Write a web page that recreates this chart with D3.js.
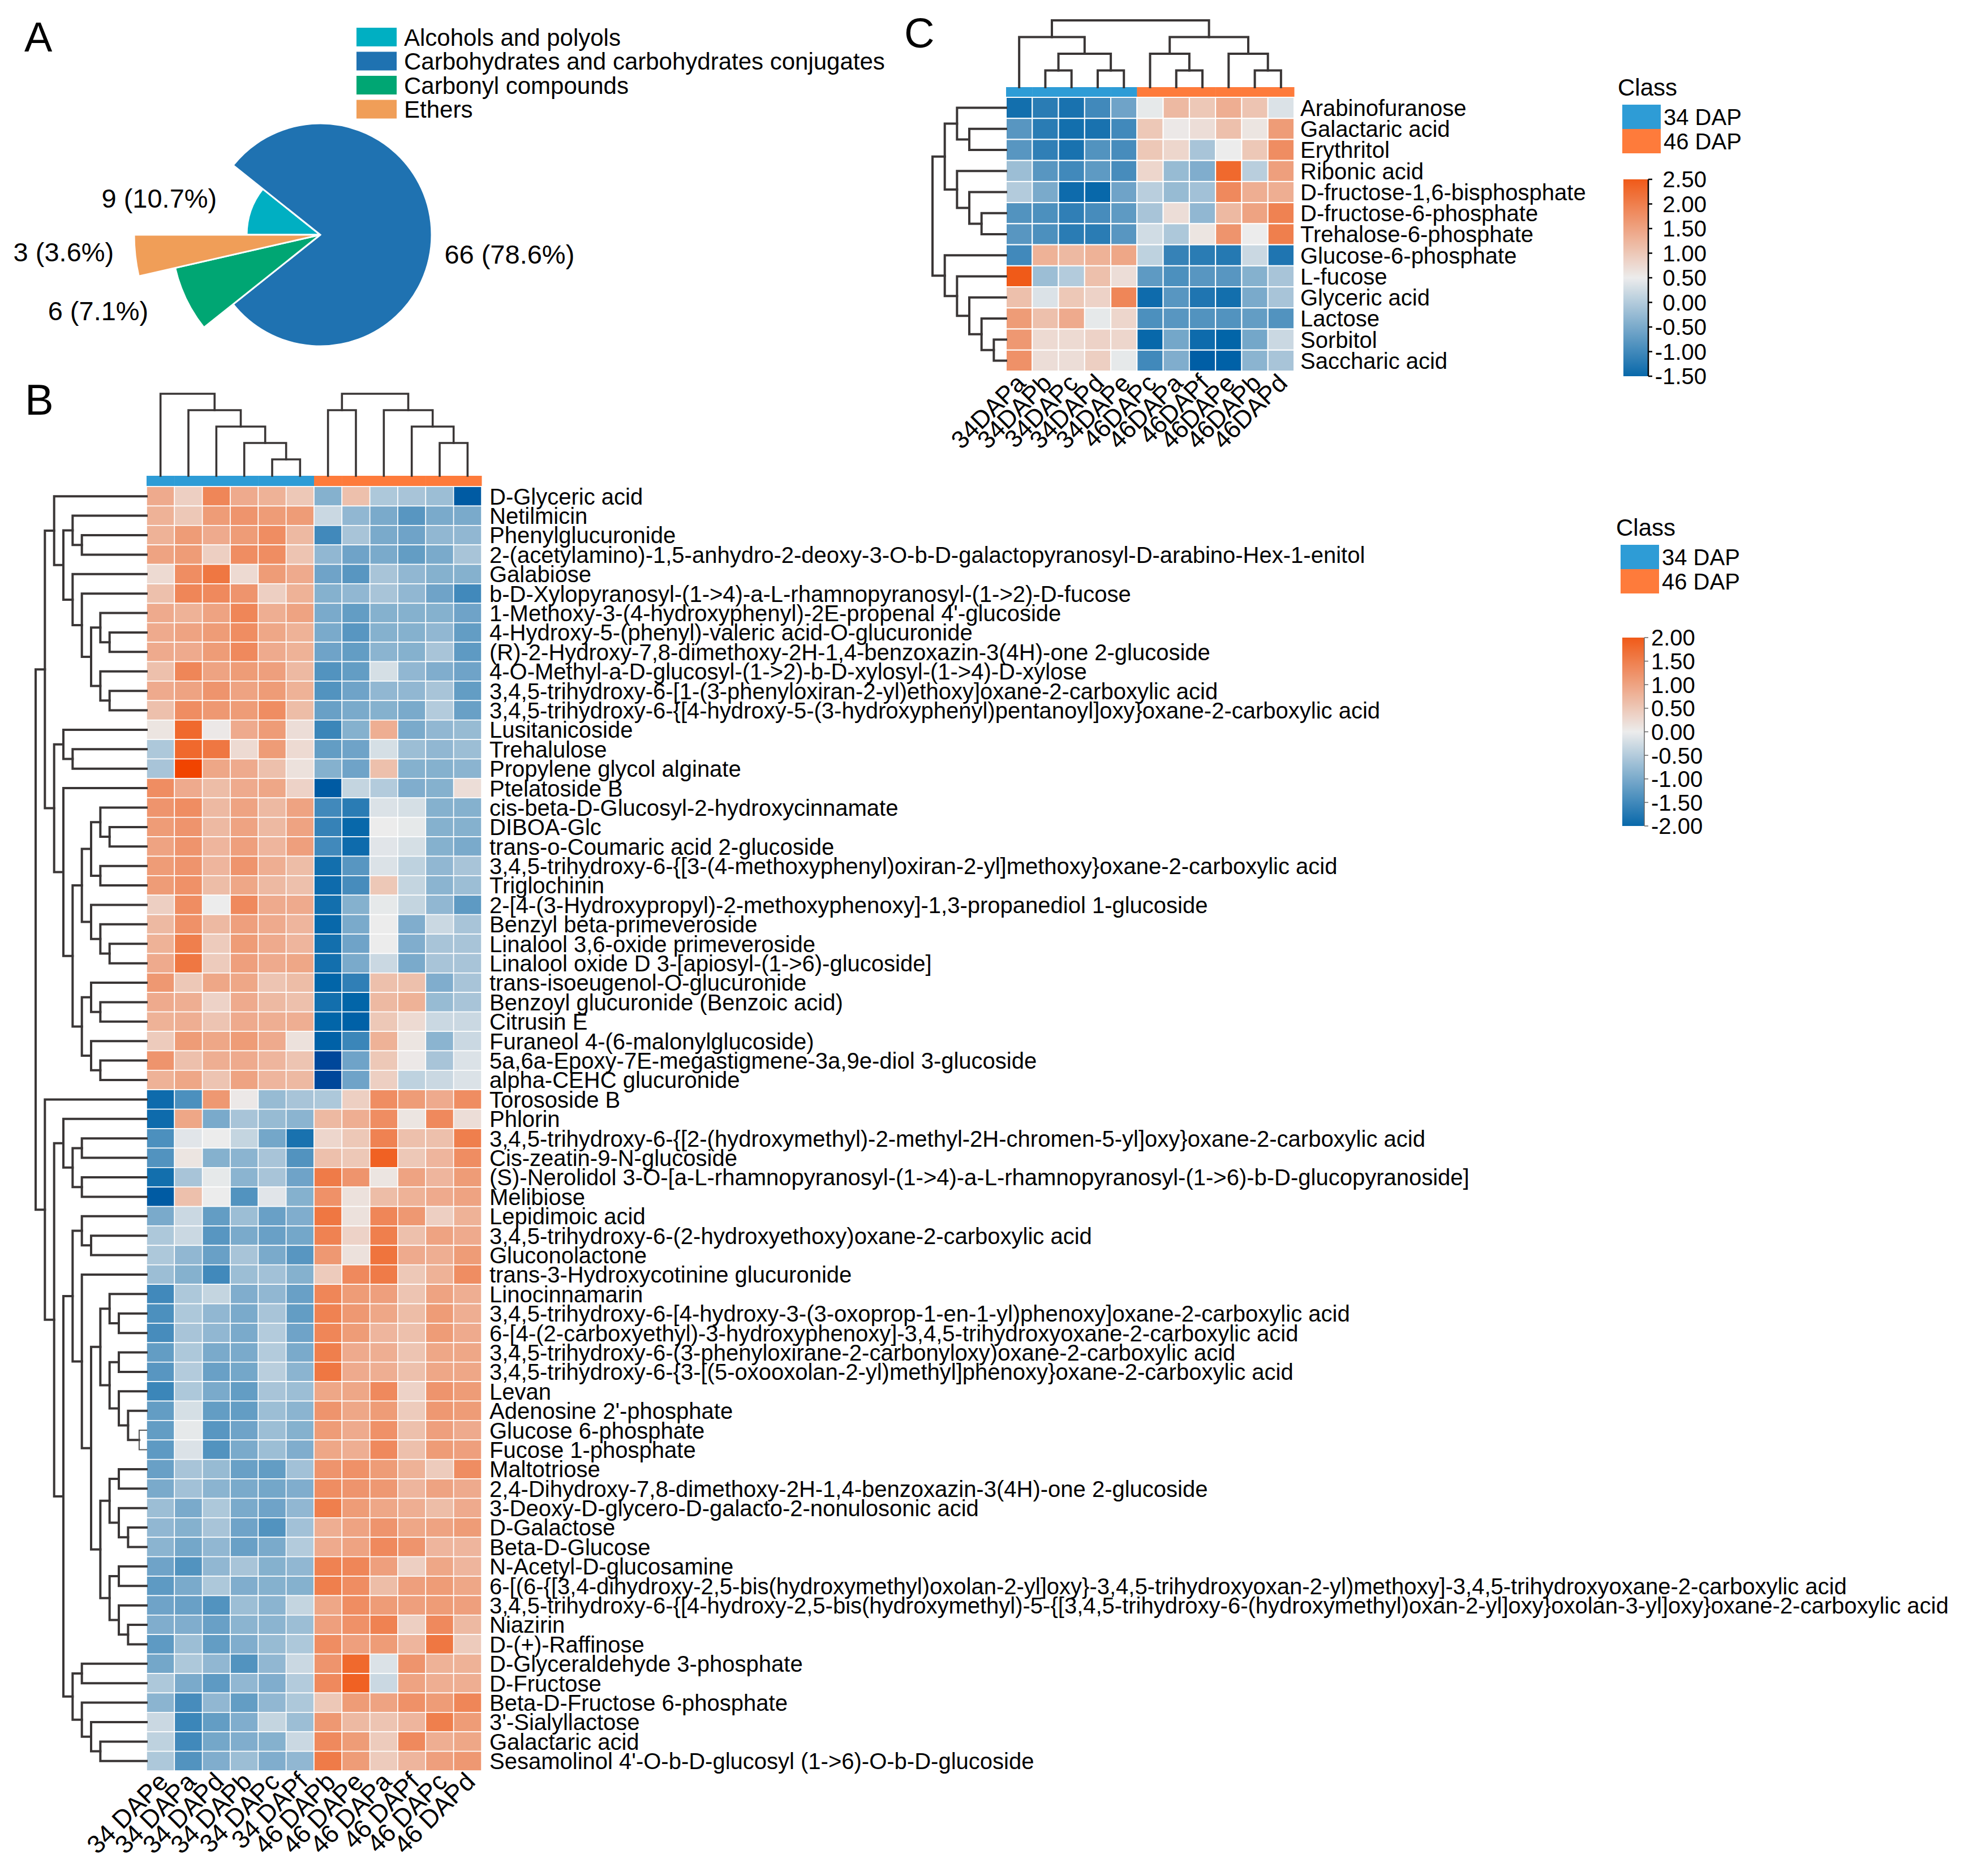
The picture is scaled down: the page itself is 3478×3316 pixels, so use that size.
<!DOCTYPE html>
<html><head><meta charset="utf-8">
<script src="https://cdn.jsdelivr.net/npm/d3@7"></script>
<style>
body{margin:0;background:#fff}
text{font-family:"Liberation Sans",Arial,Helvetica,sans-serif;fill:#000}
</style>
</head><body>
<svg id="chart" width="3478" height="3316" xmlns="http://www.w3.org/2000/svg"></svg>
<script>
// ---------------- DATA ----------------
// Panel A
const pieCategories = ["Alcohols and polyols","Carbohydrates and carbohydrates conjugates","Carbonyl compounds","Ethers"];
const pieCounts = [9, 66, 6, 3];
const pieLabels = ["9 (10.7%)","66 (78.6%)","6 (7.1%)","3 (3.6%)"];
const pieColors = ["#00AFC2","#1F72B1","#00A673","#F09E58"];

// Panel C
const cRows = ["Arabinofuranose","Galactaric acid","Erythritol","Ribonic acid","D-fructose-1,6-bisphosphate",
  "D-fructose-6-phosphate","Trehalose-6-phosphate","Glucose-6-phosphate","L-fucose","Glyceric acid",
  "Lactose","Sorbitol","Saccharic acid"];
const cCols = ["34DAPa","34DAPb","34DAPc","34DAPd","34DAPe","46DAPc","46DAPa","46DAPf","46DAPe","46DAPb","46DAPd"];
const cClass = ["34 DAP","34 DAP","34 DAP","34 DAP","34 DAP","46 DAP","46 DAP","46 DAP","46 DAP","46 DAP","46 DAP"];
const cValues = [
  [-1.4,-1.2,-1.35,-1.0,-0.6, 0.45,1.2,1.0,1.35,1.05,0.35],
  [-0.8,-1.2,-1.4,-1.35,-1.0, 1.0,0.55,0.7,1.1,0.6,1.6],
  [-0.8,-1.15,-1.35,-0.85,-0.95, 1.0,0.8,-0.1,0.5,1.0,1.8],
  [-0.2,-0.8,-1.0,-0.75,-0.95, 0.8,-0.25,-0.45,2.3,0.05,1.55],
  [0.0,-0.5,-1.45,-1.5,-0.6, 0.05,-0.25,-0.15,1.85,1.35,1.35],
  [-0.85,-0.9,-1.15,-0.95,-0.75, -0.1,0.7,-0.3,1.2,1.5,1.95],
  [-0.8,-0.9,-1.2,-1.2,-0.8, 0.25,-0.05,0.6,1.7,0.5,2.0],
  [-1.0,1.3,1.2,1.3,1.45, 0.1,-1.1,-1.2,-1.25,0.2,-1.3],
  [2.5,-0.2,0.0,1.1,0.7, -0.75,-0.9,-0.8,-0.8,-0.4,-0.1],
  [1.1,0.35,1.0,0.85,1.9, -1.45,-0.8,-1.3,-1.4,-0.5,-0.1],
  [1.6,1.1,1.4,0.45,0.8, -0.9,-0.8,-0.85,-0.85,-0.7,-0.85],
  [1.65,0.75,0.75,0.85,0.8, -1.5,-0.55,-1.45,-1.55,-0.55,0.2],
  [1.75,0.7,0.7,0.9,0.45, -1.0,-0.45,-1.65,-1.6,-0.35,-0.1]
];
// trees: [mergeHeight, left, right]; leaves are indices
const cRowTree = [6,[5,[4,0,[3,1,2]],[4,3,[3,4,[2,5,6]]]],[5,7,[4,8,[3,9,[2,10,[1,11,12]]]]]];
const cColTree = [4,[3,0,[2,[1,1,2],[1,3,4]]],[3,[2,5,[1,6,7]],[2,8,[1,9,10]]]];
const cLegendTicks = [2.5,2.0,1.5,1.0,0.5,0.0,-0.5,-1.0,-1.5];

// Panel B
const bRows = ["D-Glyceric acid","Netilmicin","Phenylglucuronide",
"2-(acetylamino)-1,5-anhydro-2-deoxy-3-O-b-D-galactopyranosyl-D-arabino-Hex-1-enitol","Galabiose",
"b-D-Xylopyranosyl-(1->4)-a-L-rhamnopyranosyl-(1->2)-D-fucose","1-Methoxy-3-(4-hydroxyphenyl)-2E-propenal 4'-glucoside",
"4-Hydroxy-5-(phenyl)-valeric acid-O-glucuronide","(R)-2-Hydroxy-7,8-dimethoxy-2H-1,4-benzoxazin-3(4H)-one 2-glucoside",
"4-O-Methyl-a-D-glucosyl-(1->2)-b-D-xylosyl-(1->4)-D-xylose","3,4,5-trihydroxy-6-[1-(3-phenyloxiran-2-yl)ethoxy]oxane-2-carboxylic acid",
"3,4,5-trihydroxy-6-{[4-hydroxy-5-(3-hydroxyphenyl)pentanoyl]oxy}oxane-2-carboxylic acid","Lusitanicoside","Trehalulose",
"Propylene glycol alginate","Ptelatoside B","cis-beta-D-Glucosyl-2-hydroxycinnamate","DIBOA-Glc","trans-o-Coumaric acid 2-glucoside",
"3,4,5-trihydroxy-6-{[3-(4-methoxyphenyl)oxiran-2-yl]methoxy}oxane-2-carboxylic acid","Triglochinin",
"2-[4-(3-Hydroxypropyl)-2-methoxyphenoxy]-1,3-propanediol 1-glucoside","Benzyl beta-primeveroside",
"Linalool 3,6-oxide primeveroside","Linalool oxide D 3-[apiosyl-(1->6)-glucoside]","trans-isoeugenol-O-glucuronide",
"Benzoyl glucuronide (Benzoic acid)","Citrusin E","Furaneol 4-(6-malonylglucoside)","5a,6a-Epoxy-7E-megastigmene-3a,9e-diol 3-glucoside",
"alpha-CEHC glucuronide","Torososide B","Phlorin",
"3,4,5-trihydroxy-6-{[2-(hydroxymethyl)-2-methyl-2H-chromen-5-yl]oxy}oxane-2-carboxylic acid","Cis-zeatin-9-N-glucoside",
"(S)-Nerolidol 3-O-[a-L-rhamnopyranosyl-(1->4)-a-L-rhamnopyranosyl-(1->6)-b-D-glucopyranoside]","Melibiose","Lepidimoic acid",
"3,4,5-trihydroxy-6-(2-hydroxyethoxy)oxane-2-carboxylic acid","Gluconolactone","trans-3-Hydroxycotinine glucuronide","Linocinnamarin",
"3,4,5-trihydroxy-6-[4-hydroxy-3-(3-oxoprop-1-en-1-yl)phenoxy]oxane-2-carboxylic acid",
"6-[4-(2-carboxyethyl)-3-hydroxyphenoxy]-3,4,5-trihydroxyoxane-2-carboxylic acid",
"3,4,5-trihydroxy-6-(3-phenyloxirane-2-carbonyloxy)oxane-2-carboxylic acid",
"3,4,5-trihydroxy-6-{3-[(5-oxooxolan-2-yl)methyl]phenoxy}oxane-2-carboxylic acid","Levan","Adenosine 2'-phosphate",
"Glucose 6-phosphate","Fucose 1-phosphate","Maltotriose","2,4-Dihydroxy-7,8-dimethoxy-2H-1,4-benzoxazin-3(4H)-one 2-glucoside",
"3-Deoxy-D-glycero-D-galacto-2-nonulosonic acid","D-Galactose","Beta-D-Glucose","N-Acetyl-D-glucosamine",
"6-[(6-{[3,4-dihydroxy-2,5-bis(hydroxymethyl)oxolan-2-yl]oxy}-3,4,5-trihydroxyoxan-2-yl)methoxy]-3,4,5-trihydroxyoxane-2-carboxylic acid",
"3,4,5-trihydroxy-6-{[4-hydroxy-2,5-bis(hydroxymethyl)-5-{[3,4,5-trihydroxy-6-(hydroxymethyl)oxan-2-yl]oxy}oxolan-3-yl]oxy}oxane-2-carboxylic acid",
"Niazirin","D-(+)-Raffinose","D-Glyceraldehyde 3-phosphate","D-Fructose","Beta-D-Fructose 6-phosphate","3'-Sialyllactose",
"Galactaric acid","Sesamolinol 4'-O-b-D-glucosyl (1->6)-O-b-D-glucoside"];
const bCols = ["34 DAPe","34 DAPa","34 DAPd","34 DAPb","34 DAPc","34 DAPf","46 DAPb","46 DAPe","46 DAPa","46 DAPf","46 DAPc","46 DAPd"];
const bClass = ["34 DAP","34 DAP","34 DAP","34 DAP","34 DAP","34 DAP","46 DAP","46 DAP","46 DAP","46 DAP","46 DAP","46 DAP"];
const bValues = [
[0.9,0.4,1.4,0.9,0.8,0.5,-0.9,0.6,-0.55,-0.6,-0.7,-2.2],
[0.8,0.5,1.1,1.2,1.1,1.1,-0.3,-0.8,-1.0,-1.3,-1.0,-1.0],
[0.8,1.1,0.9,1.1,1.3,0.7,-1.5,-0.6,-1.0,-1.1,-0.8,-0.8],
[1.0,1.1,0.4,1.3,1.3,0.55,-0.8,-1.1,-1.0,-1.2,-1.0,-0.6],
[0.25,1.3,1.6,0.25,1.1,0.9,-1.1,-1.3,-0.6,-0.8,-0.9,-0.9],
[0.6,1.4,1.35,1.2,0.4,0.8,-0.9,-0.8,-0.6,-0.8,-1.1,-1.5],
[0.9,0.8,1.0,1.4,0.85,1.0,-1.0,-1.2,-0.9,-0.9,-0.9,-1.1],
[0.9,1.0,1.1,1.3,0.95,0.8,-1.0,-1.3,-0.9,-0.9,-0.8,-1.2],
[0.9,0.9,1.1,1.35,0.9,0.8,-1.1,-1.2,-0.85,-0.9,-0.6,-1.25],
[0.6,1.4,1.0,1.1,1.05,0.7,-1.35,-1.2,-0.2,-0.8,-0.95,-1.1],
[0.9,1.0,1.2,1.0,1.1,0.8,-1.35,-1.1,-0.8,-0.8,-0.6,-1.2],
[0.6,1.3,1.15,1.1,1.3,0.65,-1.15,-1.0,-0.9,-1.0,-0.5,-1.15],
[0.1,1.8,0.05,0.9,1.1,0.2,-1.55,-0.9,0.85,-1.0,-0.8,-0.75],
[-0.55,1.8,1.6,0.25,1.1,0.25,-1.2,-1.1,-0.2,-0.7,-0.8,-0.7],
[-0.6,2.3,0.95,0.9,0.6,0.15,-0.9,-1.1,0.6,-0.9,-0.9,-0.85],
[1.3,0.9,0.65,0.9,0.95,0.35,-2.2,-0.35,-0.5,-0.95,-0.9,0.2],
[1.2,1.3,0.7,1.0,0.7,1.0,-1.5,-1.7,-0.15,-0.2,-0.9,-0.9],
[1.1,1.2,0.7,1.0,0.7,1.0,-1.6,-2.0,0.0,-0.05,-0.9,-0.9],
[1.0,1.2,0.75,1.05,0.75,1.05,-1.5,-1.95,-0.1,-0.2,-0.9,-1.0],
[1.1,1.2,0.75,1.2,0.85,0.65,-1.9,-1.3,-0.15,-0.4,-0.8,-0.6],
[1.1,1.25,0.65,0.95,0.7,0.6,-1.95,-1.45,0.5,-0.35,-0.85,-0.7],
[0.4,1.3,0.0,1.35,0.9,0.9,-1.9,-0.9,-0.05,-0.35,-0.8,-1.25],
[0.7,1.25,0.7,1.05,0.9,0.75,-2.0,-1.0,0.0,-0.95,-0.3,-0.6],
[0.8,1.5,0.45,1.1,0.9,0.75,-1.9,-1.1,0.0,-0.95,-0.6,-0.6],
[0.9,1.6,0.45,1.05,0.9,0.95,-1.9,-1.0,-0.3,-1.0,-0.6,-0.6],
[1.15,0.5,0.95,0.95,0.55,0.65,-2.05,-1.65,0.6,0.6,-0.95,-0.6],
[0.9,0.85,0.35,0.9,0.7,0.6,-1.9,-2.05,0.7,0.8,-0.75,-0.6],
[0.8,0.85,0.55,0.9,0.85,0.85,-2.05,-2.1,0.5,0.25,-0.3,-0.3],
[0.45,1.1,0.95,1.1,0.9,0.15,-2.1,-1.55,0.8,0.1,-0.85,-0.3],
[1.2,0.6,0.85,0.9,0.75,0.55,-2.5,-1.1,0.5,0.05,-0.6,-0.15],
[0.8,0.95,0.55,1.0,0.75,0.7,-2.5,-1.1,0.4,-0.4,-0.3,-0.15],
[-1.95,-1.4,1.15,0.05,-0.75,-0.6,-0.55,0.4,1.3,1.1,0.9,1.3],
[-1.95,0.95,-1.0,-0.6,-0.75,-0.85,0.7,0.85,1.3,0.1,1.35,0.2],
[-1.4,-0.1,0.0,-0.35,-1.05,-1.85,0.3,0.5,1.45,0.6,0.6,1.5],
[-1.35,0.1,-0.9,-0.85,-0.6,-1.35,0.6,0.5,1.9,0.5,0.75,1.3],
[-1.9,-0.6,-0.05,-0.85,-0.6,-1.1,1.55,1.2,0.1,1.0,0.75,1.1],
[-2.2,0.6,0.0,-1.35,-0.1,-0.9,1.25,0.15,0.65,0.8,0.9,1.0],
[-1.0,-0.3,-1.2,-0.7,-1.15,-0.95,1.6,0.15,1.4,1.15,0.4,0.8],
[-0.55,-0.3,-1.3,-1.0,-1.15,-1.05,1.45,0.35,1.5,0.6,1.0,0.9],
[-0.55,-0.8,-1.15,-0.6,-1.0,-1.3,1.15,0.15,1.65,0.9,0.85,1.1],
[-0.7,-0.9,-1.5,-0.7,-0.65,-0.9,0.45,1.35,1.55,0.5,0.8,1.3],
[-1.5,-0.55,-0.35,-0.95,-0.8,-1.15,1.4,1.1,1.05,0.55,1.0,0.85],
[-1.4,-0.55,-0.8,-1.0,-0.6,-1.2,1.45,1.15,0.95,0.65,1.1,0.85],
[-1.45,-0.6,-0.8,-1.0,-0.5,-1.1,1.4,1.1,0.75,0.6,1.1,0.9],
[-1.2,-0.55,-1.0,-1.0,-0.5,-1.0,1.5,0.9,0.85,0.55,0.95,0.95],
[-1.3,-0.5,-1.15,-1.05,-0.45,-0.85,1.6,0.9,0.85,0.6,0.95,0.95],
[-1.55,-0.55,-1.0,-1.2,-0.6,-0.7,0.95,0.95,1.35,0.35,1.2,1.1],
[-1.2,-0.2,-1.2,-1.2,-0.7,-0.85,1.2,0.95,1.1,0.45,1.15,1.1],
[-1.2,-0.05,-1.3,-1.1,-0.7,-0.9,1.1,0.9,1.25,0.6,1.05,0.9],
[-1.25,-0.15,-1.35,-1.0,-0.7,-0.95,0.95,0.85,1.35,0.6,1.1,1.05],
[-1.15,-0.6,-0.75,-1.15,-1.2,-0.65,1.2,1.25,1.1,0.8,0.45,1.3],
[-1.0,-0.65,-0.85,-1.0,-1.05,-0.95,1.3,1.2,1.15,0.75,1.0,0.9],
[-0.7,-1.0,-0.55,-1.0,-1.1,-0.8,1.5,1.1,0.95,0.85,0.65,0.9],
[-0.8,-0.9,-0.6,-1.1,-1.35,-0.65,0.85,1.0,1.2,0.95,1.0,1.1],
[-0.85,-1.05,-0.8,-1.15,-1.0,-0.5,0.9,1.0,1.35,1.2,0.75,0.75],
[-1.1,-1.35,-0.8,-0.6,-0.9,-0.8,1.45,1.4,1.05,0.4,0.95,0.75],
[-1.25,-1.0,-0.55,-0.95,-0.9,-0.9,1.5,1.3,0.65,1.05,1.1,0.95],
[-1.1,-1.15,-1.35,-0.7,-0.85,-0.35,0.95,1.3,1.1,1.05,1.1,1.05],
[-0.95,-0.95,-1.15,-0.85,-0.85,-0.7,1.05,1.25,1.45,0.4,1.35,0.7],
[-1.25,-0.7,-1.2,-0.95,-0.75,-0.55,1.3,1.05,1.1,0.75,1.6,0.45],
[-1.05,-0.55,-0.8,-1.35,-0.8,-0.3,1.2,1.8,-0.15,1.2,0.8,0.8],
[-0.55,-1.0,-1.25,-0.8,-0.95,-0.5,1.35,1.9,-0.3,1.0,0.85,0.85],
[-0.85,-1.45,-0.8,-1.2,-0.8,-0.55,0.5,1.1,1.0,1.25,1.1,1.4],
[-0.3,-1.55,-1.2,-0.95,-0.35,-0.7,1.15,0.7,0.55,0.75,1.5,1.1],
[-0.4,-1.5,-1.05,-0.95,-0.9,-0.3,1.35,1.1,0.45,1.35,0.85,0.95],
[-0.55,-1.35,-0.95,-0.7,-0.95,-0.8,1.55,1.1,0.45,0.75,1.05,1.15]
];
const bRowTree = [12,
  [11,
    [10,0,[9,[8,1,[7,2,3]],[8,4,[7,5,[6,[5,6,[4,7,8]],[5,9,[4,10,11]]]]]]],
    [10,[9,12,[8,13,14]],[9,15,[8,[7,[6,[5,16,[4,17,18]],[5,19,20]],[6,21,[5,22,[4,23,24]]]],[7,[6,25,[5,26,27]],[6,28,[5,29,30]]]]]]],
  [11,31,
    [10,[9,32,[8,[7,33,34],[7,35,36]]],
      [9,
        [8,[7,37,[6,38,39]],
           [7,40,[6,
             [5,[4,41,[3,42,43]],[4,[3,44,45],[3,46,[2,47,[0.8,48,49]]]]],
             [5,[4,[3,50,51],[3,52,[2,53,54]]],[4,[3,55,56],[3,57,[2,58,59]]]]]]],
        [8,[7,60,61],[7,62,[6,63,[5,64,65]]]]]]]
];
const bColTrees = [
  [5,0,[4,1,[3,2,[2,3,[1,4,5]]]]],
  [5,[4,6,7],[4,8,[3,9,[2,10,11]]]]
];
const bLegendTicks = [2.0,1.5,1.0,0.5,0.0,-0.5,-1.0,-1.5,-2.0];
const classNames = ["34 DAP","46 DAP"];

// ---------------- STYLE / LAYOUT ----------------
const LOW = "#0868AA", MID = "#ECECEC", HIGH = "#F05A18";
const classColor = d3.scaleOrdinal().domain(classNames).range(["#2E9CD6","#FE7B3B"]);
const DEND = "#3a3636";
const svg = d3.select("#chart");

function fmt(v){ return v.toFixed(2); }

// generic dendrogram
function drawDendro(g, tree, leafPos, hScale, orient, sw){
  const root = d3.hierarchy(tree, d => Array.isArray(d) ? d.slice(1) : null);
  root.eachAfter(n => {
    if (!n.children){ n.h = 0; n.p = leafPos(n.data); }
    else { n.h = n.data[0]; n.p = (n.children[0].p + n.children[1].p)/2; }
  });
  root.each(n => {
    if (!n.children) return;
    const [a, b] = n.children;
    let d;
    if (orient === "row"){
      d = `M${hScale(a.h)},${a.p}H${hScale(n.h)}V${b.p}H${hScale(b.h)}`;
    } else {
      d = `M${a.p},${hScale(a.h)}V${hScale(n.h)}H${b.p}V${hScale(b.h)}`;
    }
    const thin = n.h < 1;
    g.append("path").attr("d", d).attr("fill","none")
      .attr("stroke", thin ? "#555" : DEND)
      .attr("stroke-width", thin ? sw*0.5 : sw)
      .attr("stroke-linejoin","miter").attr("stroke-linecap","square");
  });
}

function colorbar(id, x, y, w, h, color, domain, ticks, opts){
  const defs = svg.append("defs");
  const grad = defs.append("linearGradient").attr("id", id)
    .attr("x1","0").attr("y1","1").attr("x2","0").attr("y2","0");
  const n = 40;
  for (let i=0;i<=n;i++){
    const v = domain[0] + (domain[1]-domain[0])*i/n;
    grad.append("stop").attr("offset", (i/n)).attr("stop-color", color(v));
  }
  svg.append("rect").attr("x",x).attr("y",y).attr("width",w).attr("height",h).attr("fill",`url(#${id})`);
  const sc = d3.scaleLinear().domain(domain).range([y+h, y]);
  const ax = svg.append("g").attr("transform",`translate(${x+w},0)`);
  ax.append("line").attr("x1",0).attr("x2",0).attr("y1",y).attr("y2",y+h)
    .attr("stroke",opts.axisColor).attr("stroke-width",opts.axisW);
  ticks.forEach(t => {
    ax.append("line").attr("x1",0).attr("x2",7).attr("y1",sc(t)).attr("y2",sc(t))
      .attr("stroke",opts.axisColor).attr("stroke-width",opts.axisW);
    ax.append("text").attr("x", opts.labelX).attr("y", sc(t)).attr("dy","0.36em")
      .attr("text-anchor", opts.anchor).attr("font-size", 40).text(fmt(t));
  });
}

function classLegend(x, y){
  svg.append("text").attr("x", x-8).attr("y", y).attr("font-size", 42).text("Class");
  classNames.forEach((c,i) => {
    svg.append("rect").attr("x",x).attr("y",y+16+i*43).attr("width",68).attr("height",43).attr("fill",classColor(c));
    svg.append("text").attr("x",x+73).attr("y",y+16+i*43+21.5).attr("dy","0.36em")
      .attr("font-size",40).text(c);
  });
}

// ---------------- PANEL A ----------------
(function(){
  svg.append("text").attr("x",43).attr("y",91).attr("font-size",74).text("A");
  const cx = 566, cy = 415;
  const sliceRadius = [130, 197, 263, 329];
  const labelRadius = [194, 222, 332, 366];
  const labelTurn = [0.3, 8.8, 1.9, 1.7].map(d => d*Math.PI/180);
  const pie = d3.pie().value(d => d).sort(null).startAngle(-Math.PI/2).endAngle(1.5*Math.PI);
  const arcs = pie(pieCounts);
  const g = svg.append("g").attr("transform",`translate(${cx},${cy})`);
  arcs.forEach((a,i) => {
    const arc = d3.arc().innerRadius(0).outerRadius(sliceRadius[i]);
    g.append("path").attr("d", arc(a)).attr("fill", pieColors[i]).attr("stroke","#fff").attr("stroke-width",3);
  });
  arcs.forEach((a,i) => {
    const m = (a.startAngle + a.endAngle)/2 + labelTurn[i];
    const x = labelRadius[i]*Math.sin(m), y = -labelRadius[i]*Math.cos(m);
    g.append("text").attr("x",x).attr("y",y).attr("dy","0.36em")
      .attr("text-anchor", Math.sin(m) < 0 ? "end" : "start")
      .attr("font-size",47).text(pieLabels[i]);
  });
  pieCategories.forEach((c,i) => {
    svg.append("rect").attr("x",630).attr("y",49+i*42.5).attr("width",71).attr("height",33).attr("fill",pieColors[i]);
    svg.append("text").attr("x",714).attr("y",49+i*42.5+16.5).attr("dy","0.36em").attr("font-size",42).text(c);
  });
})();

// ---------------- PANEL C ----------------
(function(){
  svg.append("text").attr("x",1598).attr("y",84).attr("font-size",74).text("C");
  const x = d3.scaleBand().domain(d3.range(cCols.length)).range([1778, 2287]);
  const y = d3.scaleBand().domain(d3.range(cRows.length)).range([172, 656]);
  const color = d3.scaleLinear().domain([-1.5, 0.5, 2.5]).range([LOW, MID, HIGH]);
  const g = svg.append("g");
  cValues.forEach((row, i) => row.forEach((v, j) => {
    g.append("rect").attr("x", x(j)).attr("y", y(i)).attr("width", x.bandwidth()).attr("height", y.bandwidth())
      .attr("fill", color(v)).attr("stroke","#fff").attr("stroke-width",2);
  }));
  // class bar
  cClass.forEach((c,j) => {
    g.append("rect").attr("x", x(j)).attr("y", 154).attr("width", x.bandwidth()+0.5).attr("height", 17).attr("fill", classColor(c));
  });
  // row labels
  cRows.forEach((r,i) => {
    g.append("text").attr("x", 2298).attr("y", y(i)+y.bandwidth()/2).attr("dy","0.36em").attr("font-size",40).text(r);
  });
  // col labels
  cCols.forEach((c,j) => {
    const px = x(j) + x.bandwidth()/2 + 14, py = 656 + 24;
    g.append("text").attr("transform",`translate(${px},${py}) rotate(-45)`)
      .attr("text-anchor","end").attr("font-size",44).text(c);
  });
  // dendrograms
  const hRow = d3.scaleLinear().domain([0,6]).range([1778, 1648]);
  drawDendro(svg.append("g"), cRowTree, i => y(i)+y.bandwidth()/2, hRow, "row", 4);
  const hCol = d3.scaleLinear().domain([0,4]).range([154, 36]);
  drawDendro(svg.append("g"), cColTree, j => x(j)+x.bandwidth()/2, hCol, "col", 4);
  // legend
  classLegend(2867, 169);
  colorbar("gradC", 2869, 317, 44, 348, color, [-1.5, 2.5], cLegendTicks,
    {axisColor:"#000", axisW:2.5, labelX:103, anchor:"end"});
})();

// ---------------- PANEL B ----------------
(function(){
  svg.append("text").attr("x",44).attr("y",733).attr("font-size",76).text("B");
  const x = d3.scaleBand().domain(d3.range(bCols.length)).range([259, 851]);
  const y = d3.scaleBand().domain(d3.range(bRows.length)).range([860, 3130]);
  const color = d3.scaleLinear().domain([-2, 0, 2]).range([LOW, MID, HIGH]);
  const g = svg.append("g");
  bValues.forEach((row, i) => row.forEach((v, j) => {
    g.append("rect").attr("x", x(j)).attr("y", y(i)).attr("width", x.bandwidth()).attr("height", y.bandwidth())
      .attr("fill", color(v)).attr("stroke","#fff").attr("stroke-width",1.6);
  }));
  bClass.forEach((c,j) => {
    g.append("rect").attr("x", x(j)).attr("y", 841).attr("width", x.bandwidth()+0.5).attr("height", 18).attr("fill", classColor(c));
  });
  bRows.forEach((r,i) => {
    g.append("text").attr("x", 865).attr("y", y(i)+y.bandwidth()/2).attr("dy","0.36em").attr("font-size",40).text(r);
  });
  bCols.forEach((c,j) => {
    const px = x(j) + x.bandwidth()/2 + 16, py = 3130 + 22;
    g.append("text").attr("transform",`translate(${px},${py}) rotate(-45)`)
      .attr("text-anchor","end").attr("font-size",45).text(c);
  });
  const hRow = d3.scaleLinear().domain([0,12]).range([259, 63]);
  drawDendro(svg.append("g"), bRowTree, i => y(i)+y.bandwidth()/2, hRow, "row", 4);
  const hCol = d3.scaleLinear().domain([0,5]).range([841, 696]);
  bColTrees.forEach(t => drawDendro(svg.append("g"), t, j => x(j)+x.bandwidth()/2, hCol, "col", 3.6));
  classLegend(2864, 947);
  colorbar("gradB", 2867, 1127, 39, 333, color, [-2, 2], bLegendTicks,
    {axisColor:"#666", axisW:1.5, labelX:12, anchor:"start"});
})();
</script>
</body></html>
